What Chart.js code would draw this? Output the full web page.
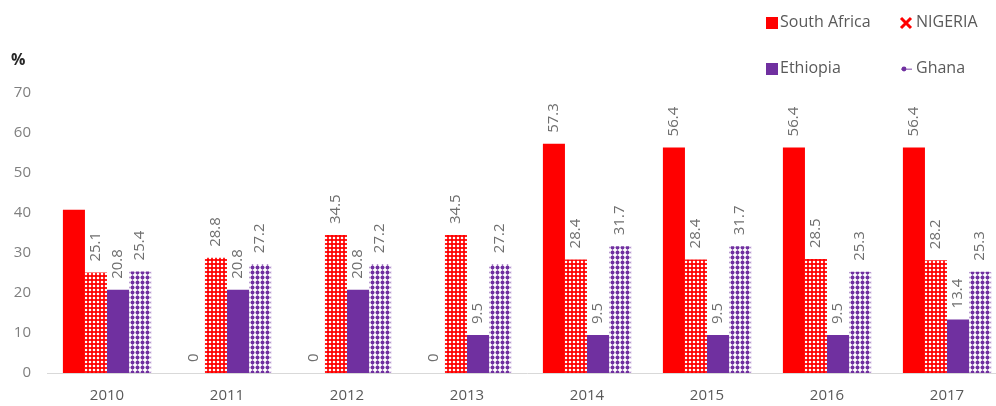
<!DOCTYPE html>
<html>
<head>
<meta charset="utf-8">
<script src="https://cdn.jsdelivr.net/npm/chart.js@4.4.1/dist/chart.umd.min.js"></script>
<style>
  html, body { margin: 0; padding: 0; background: #fff; overflow: hidden; }
  /* the last category runs a little past the visible right edge */
  #wrap { position: relative; width: 1007px; height: 406px; }
</style>
</head>
<body>
<div id="wrap"><canvas id="c"></canvas></div>
<script>
const years       = ['2010', '2011', '2012', '2013', '2014', '2015', '2016', '2017'];
const southAfrica = [40.8, 0, 0, 0, 57.3, 56.4, 56.4, 56.4];
const nigeria     = [25.1, 28.8, 34.5, 34.5, 28.4, 28.4, 28.5, 28.2];
const ethiopia    = [20.8, 20.8, 20.8, 9.5, 9.5, 9.5, 9.5, 13.4];
const ghana       = [25.4, 27.2, 27.2, 27.2, 31.7, 31.7, 25.3, 25.3];
const yTicks      = [0, 10, 20, 30, 40, 50, 60, 70];
// South Africa 2010 carries no value label
const noLabel     = { 0: [0] };

const RED = '#ff0000';
const PURPLE = '#7030a0';
const FONT = '"Open Sans", sans-serif';

function makePattern(size, draw) {
  const cv = document.createElement('canvas');
  cv.width = cv.height = size;
  const g = cv.getContext('2d');
  draw(g, size);
  return g.createPattern(cv, 'repeat');
}
const ctx0 = document.getElementById('c').getContext('2d');

// red with white dots
const nigeriaFill = makePattern(4, (g, s) => {
  g.fillStyle = RED; g.fillRect(0, 0, s, s);
  g.fillStyle = '#ffffff';
  g.beginPath(); g.arc(2, 2, 1.3, 0, Math.PI * 2); g.fill();
});
// white with purple dots on thin columns
const ghanaFill = makePattern(5, (g, s) => {
  g.fillStyle = '#ffffff'; g.fillRect(0, 0, s, s);
  g.fillStyle = 'rgba(112,48,160,0.5)'; g.fillRect(2, 0, 1, s);
  g.fillStyle = PURPLE;
  g.beginPath(); g.arc(2.5, 2.5, 2, 0, Math.PI * 2); g.fill();
});

const series = [
  { label: 'South Africa', data: southAfrica, backgroundColor: RED },
  { label: 'NIGERIA', data: nigeria, backgroundColor: nigeriaFill },
  { label: 'Ethiopia', data: ethiopia, backgroundColor: PURPLE },
  { label: 'Ghana', data: ghana, backgroundColor: ghanaFill }
];

const valueLabels = {
  id: 'valueLabels',
  afterDatasetsDraw(chart) {
    const { ctx } = chart;
    ctx.save();
    ctx.fillStyle = '#6f6f6f';
    ctx.font = '15px ' + FONT;
    ctx.textAlign = 'left';
    ctx.textBaseline = 'middle';
    chart.data.datasets.forEach((ds, di) => {
      chart.getDatasetMeta(di).data.forEach((bar, i) => {
        if ((noLabel[di] || []).includes(i)) return;
        ctx.save();
        ctx.translate(bar.x, bar.y - 11);
        ctx.rotate(-Math.PI / 2);
        ctx.fillText(String(ds.data[i]), 0, 0);
        ctx.restore();
      });
    });
    ctx.restore();
  }
};

const cornerLegend = {
  id: 'cornerLegend',
  afterDraw(chart) {
    const { ctx } = chart;
    ctx.save();
    ctx.font = '16px ' + FONT;
    ctx.textBaseline = 'middle';

    // South Africa
    ctx.fillStyle = RED; ctx.fillRect(766, 17, 12, 12);
    ctx.fillStyle = '#595959'; ctx.fillText(series[0].label, 780, 22);
    // NIGERIA
    ctx.strokeStyle = RED; ctx.lineWidth = 3;
    ctx.beginPath();
    ctx.moveTo(901, 18); ctx.lineTo(911, 28);
    ctx.moveTo(911, 18); ctx.lineTo(901, 28);
    ctx.stroke();
    ctx.fillText(series[1].label, 916, 22);
    // Ethiopia
    ctx.fillStyle = PURPLE; ctx.fillRect(766, 63, 12, 12);
    ctx.fillStyle = '#595959'; ctx.fillText(series[2].label, 780, 68);
    // Ghana
    ctx.fillStyle = 'rgba(112,48,160,0.6)'; ctx.fillRect(901, 68.5, 11, 1.5);
    ctx.fillStyle = PURPLE;
    ctx.beginPath(); ctx.arc(904, 69, 2.4, 0, Math.PI * 2); ctx.fill();
    ctx.fillStyle = '#595959'; ctx.fillText(series[3].label, 916, 68);

    // unit
    ctx.font = 'bold 16px ' + FONT;
    ctx.fillStyle = '#262626';
    ctx.fillText('%', 11, 60);
    ctx.restore();
  }
};

new Chart(ctx0, {
  type: 'bar',
  data: {
    labels: years,
    datasets: series.map(s => ({
      ...s,
      borderWidth: 0,
      categoryPercentage: 0.735,
      barPercentage: 1
    }))
  },
  options: {
    responsive: true,
    maintainAspectRatio: false,
    animation: false,
    layout: { padding: { top: 93, right: 0, bottom: 0, left: 0 } },
    plugins: { legend: { display: false }, tooltip: { enabled: false } },
    scales: {
      x: {
        grid: { display: false, drawTicks: false },
        border: { display: true, color: '#d9d9d9', width: 1 },
        ticks: { color: '#595959', font: { family: FONT, size: 15 }, padding: 14 },
        afterFit: s => { s.height = 33; }
      },
      y: {
        min: 0, max: 70,
        afterBuildTicks: s => { s.ticks = yTicks.map(v => ({ value: v })); },
        grid: { display: false, drawTicks: false },
        border: { display: false },
        ticks: { color: '#7f7f7f', font: { family: FONT, size: 15 }, padding: 16 },
        afterFit: s => { s.width = 47; }
      }
    }
  },
  plugins: [valueLabels, cornerLegend]
});
</script>
</body>
</html>
